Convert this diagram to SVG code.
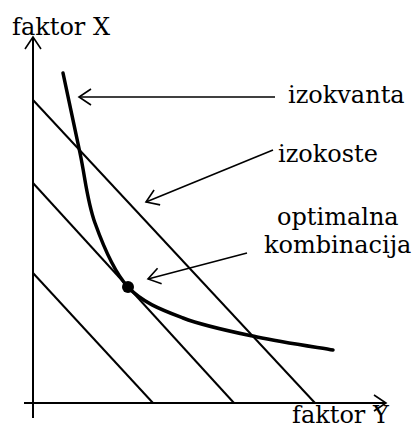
<svg xmlns="http://www.w3.org/2000/svg" width="413" height="428" viewBox="0 0 413 428">
  <style>
    .lbl { font-family: "DejaVu Serif", "Liberation Serif", serif; font-size: 24px; fill: #000; }
    .ax { stroke: #000; stroke-width: 2; fill: none; }
    .iso { stroke: #000; stroke-width: 2; fill: none; }
    .q { stroke: #000; stroke-width: 3.5; fill: none; stroke-linecap: round; }
    .ptr { stroke: #000; stroke-width: 1.6; fill: none; }
  </style>
  <defs>
    <marker id="chev" markerUnits="userSpaceOnUse" viewBox="-14 -10 16 20" refX="0" refY="0" markerWidth="16" markerHeight="20" orient="auto">
      <path d="M-12,-8 L0,0 L-12,8" fill="none" stroke="#000" stroke-width="1.6"/>
    </marker>
  </defs>
  <rect width="413" height="428" fill="#fff"/>
  <g id="axes">
    <line class="ax" x1="33" y1="418" x2="33" y2="37" marker-end="url(#chev)"/>
    <line class="ax" x1="24" y1="403" x2="386" y2="403" marker-end="url(#chev)"/>
  </g>
  <g id="isocosts">
    <line class="iso" x1="33" y1="100" x2="315" y2="403"/>
    <line class="iso" x1="33" y1="183" x2="234" y2="403"/>
    <line class="iso" x1="33" y1="273" x2="153" y2="403"/>
  </g>
  <g id="isoquant">
    <path class="q" d="M63,73 C65.8,86.3 74.7,128 80,153 C85.3,178 87,200.7 95,223 C103,245.3 113.3,271.2 128,287 C142.7,302.8 161.5,309.7 183,318 C204.5,326.3 232,331.7 257,337 C282,342.3 320.3,347.8 333,350"/>
  </g>
  <g id="optimum">
    <circle cx="128" cy="287" r="6" fill="#000"/>
  </g>
  <g id="connectors">
    <line class="ptr" x1="275" y1="97" x2="79" y2="97" marker-end="url(#chev)"/>
    <line class="ptr" x1="273" y1="150" x2="146" y2="202" marker-end="url(#chev)"/>
    <line class="ptr" x1="247" y1="253" x2="148" y2="279" marker-end="url(#chev)"/>
  </g>
  <g id="labels">
    <text class="lbl" x="12" y="35">faktor X</text>
    <text class="lbl" x="288" y="103">izokvanta</text>
    <text class="lbl" x="278" y="162">izokoste</text>
    <text class="lbl" x="277" y="225">optimalna</text>
    <text class="lbl" x="264" y="253">kombinacija</text>
    <text class="lbl" x="292" y="423">faktor Y</text>
  </g>
</svg>
